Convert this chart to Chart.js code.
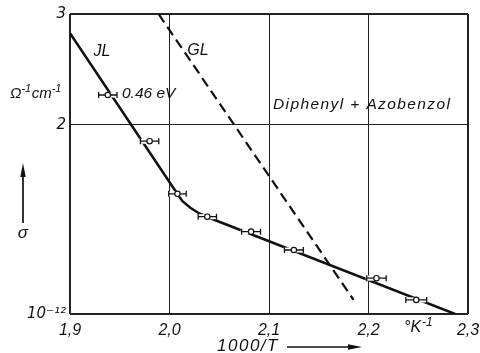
<!DOCTYPE html>
<html><head><meta charset="utf-8">
<script src="https://cdn.jsdelivr.net/npm/chart.js@4"></script>
<style>html,body{margin:0;padding:0;background:#fff;}canvas{display:block;}</style>
</head><body>
<canvas id="c" width="480" height="353"></canvas>
<script>
// ---- data ----
const xTicks = [1.9, 2.0, 2.1, 2.2, 2.3];
const xTickLabels = ['1,9', '2,0', '2,1', '2,2', '2,3'];
const yTicks = [1, 2, 3];
const yTickLabels = ['10\u207B\u00B9\u00B2', '2', '3'];

// measured points (1000/T, sigma in 1e-12 Ohm^-1 cm^-1) with horizontal error
const measX    = [1.938, 1.980, 2.008, 2.038, 2.082, 2.125, 2.208, 2.248];
const measY    = [2.23, 1.883, 1.553, 1.428, 1.352, 1.264, 1.140, 1.053];
const measXErr = [0.0092, 0.0092, 0.0088, 0.0092, 0.0095, 0.0095, 0.0098, 0.0105];

// JL curve (solid)
const jlX = [1.900, 2.008, 2.013, 2.021, 2.030, 2.041, 2.287];
const jlY = [2.797, 1.552, 1.512, 1.476, 1.445, 1.420, 1.000];

// GL line (dashed)
const glX = [1.989, 2.185];
const glY = [3.0, 1.053];

const FONT = "'Liberation Sans', Arial, sans-serif";
const SUPFONT = "'DejaVu Sans', sans-serif";
const toPts = (xs, ys) => xs.map((x, i) => ({x: x, y: ys[i]}));

const errorBars = {
  id: 'errorBars',
  beforeDatasetDraw(chart, args) {
    if (args.index !== 0) return;
    const ctx = chart.ctx, xs = chart.scales.x, ys = chart.scales.y;
    ctx.save();
    const cap = 3;
    measX.forEach((x, i) => {
      const py = ys.getPixelForValue(measY[i]);
      const x0 = xs.getPixelForValue(x - measXErr[i]);
      const x1 = xs.getPixelForValue(x + measXErr[i]);
      ctx.strokeStyle = '#fff'; ctx.lineWidth = 5;
      ctx.beginPath(); ctx.moveTo(x0 - 1, py); ctx.lineTo(x1 + 1, py); ctx.stroke();
      ctx.strokeStyle = '#111'; ctx.lineWidth = 1.3;
      ctx.beginPath();
      ctx.moveTo(x0, py); ctx.lineTo(x1, py);
      ctx.moveTo(x0, py - cap); ctx.lineTo(x0, py + cap);
      ctx.moveTo(x1, py - cap); ctx.lineTo(x1, py + cap);
      ctx.stroke();
    });
    ctx.restore();
  }
};

function supText(ctx, parts, x, y) {
  // parts: [text, size, raise]
  let cx = x;
  parts.forEach(p => {
    ctx.font = 'italic ' + p[1] + 'px ' + FONT;
    ctx.fillText(p[0], cx, y - p[2]);
    cx += ctx.measureText(p[0]).width + (p[3] || 0);
  });
}

const annotations = {
  id: 'annotations',
  afterDraw(chart) {
    const ctx = chart.ctx;
    ctx.save();
    ctx.fillStyle = '#111';
    ctx.textBaseline = 'middle';
    const it = (s) => 'italic ' + s + 'px ' + FONT;
    ctx.font = it(16);
    ctx.textAlign = 'center';
    ctx.fillText('JL', 102, 52);
    ctx.fillText('GL', 198, 51);
    ctx.textAlign = 'left';
    ctx.font = it(15.5);
    ctx.fillText('0.46 eV', 122, 94);
    ctx.letterSpacing = '1.4px';
    ctx.font = it(15.5);
    ctx.fillText('Diphenyl + Azobenzol', 273, 105);
    ctx.letterSpacing = '0px';
    supText(ctx, [['\u03A9', 15, 0], ['-1', 11, 5, 0.5], ['cm', 15, 0], ['-1', 11, 5]], 10, 94);
    supText(ctx, [['\u00B0K', 16, 0, 1], ['-1', 12, 5]], 404, 328);
    ctx.textAlign = 'center';
    ctx.font = it(17);
    ctx.fillText('\u03C3', 23, 233);
    ctx.letterSpacing = '1.5px';
    ctx.font = it(17);
    ctx.fillText('1000/T', 248, 346);
    ctx.letterSpacing = '0px';
    // arrows
    ctx.strokeStyle = '#111'; ctx.lineWidth = 1.7;
    ctx.beginPath(); ctx.moveTo(23, 223); ctx.lineTo(23, 172); ctx.stroke();
    ctx.beginPath(); ctx.moveTo(23, 163); ctx.lineTo(20.3, 177); ctx.lineTo(25.7, 177); ctx.closePath(); ctx.fill();
    ctx.beginPath(); ctx.moveTo(287, 347); ctx.lineTo(352, 347); ctx.stroke();
    ctx.beginPath(); ctx.moveTo(362, 347); ctx.lineTo(348, 344.3); ctx.lineTo(348, 349.7); ctx.closePath(); ctx.fill();
    ctx.restore();
  }
};

new Chart(document.getElementById('c'), {
  data: {
    datasets: [
      {
        type: 'scatter',
        data: toPts(measX, measY),
        pointRadius: 2.7,
        pointBackgroundColor: '#fff',
        pointBorderColor: '#111',
        pointBorderWidth: 1.2
      },
      {
        type: 'line',
        data: toPts(glX, glY),
        borderColor: '#111',
        borderWidth: 2.2,
        borderDash: [10, 5.5],
        pointRadius: 0,
        tension: 0,
        fill: false
      },
      {
        type: 'line',
        data: toPts(jlX, jlY),
        borderColor: '#111',
        borderWidth: 2.5,
        pointRadius: 0,
        tension: 0,
        fill: false,
        borderJoinStyle: 'round'
      }
    ]
  },
  options: {
    responsive: false,
    animation: false,
    devicePixelRatio: 1,
    layout: {padding: {top: 14, right: 12, left: 0, bottom: 0}},
    plugins: {legend: {display: false}, tooltip: {enabled: false}},
    scales: {
      x: {
        type: 'linear',
        min: 1.9, max: 2.3,
        afterBuildTicks: (s) => { s.ticks = xTicks.map(v => ({value: v})); },
        afterFit: (s) => { s.height = 39; s.paddingLeft = 0; s.paddingRight = 0; },
        border: {display: false},
        grid: {
          color: '#222',
          drawTicks: false,
          lineWidth: (c) => (c.index === 0 || c.index === xTicks.length - 1) ? 2 : 1
        },
        ticks: {
          autoSkip: false, maxRotation: 0, padding: 7, color: '#111',
          font: {family: FONT, size: 16, style: 'italic'},
          callback: (v, i) => xTickLabels[i]
        }
      },
      y: {
        type: 'logarithmic',
        min: 1, max: 3,
        afterBuildTicks: (s) => { s.ticks = yTicks.map(v => ({value: v})); },
        afterFit: (s) => { s.width = 70; s.paddingTop = 0; s.paddingBottom = 0; },
        border: {display: false},
        grid: {
          color: '#222',
          drawTicks: false,
          lineWidth: (c) => (c.index === 0 || c.index === yTicks.length - 1) ? 2 : 1
        },
        ticks: {
          autoSkip: false, padding: 4, color: '#111',
          font: {family: SUPFONT, size: 15, style: 'italic'},
          callback: (v, i) => yTickLabels[i]
        }
      }
    }
  },
  plugins: [errorBars, annotations]
});
</script>
</body></html>
